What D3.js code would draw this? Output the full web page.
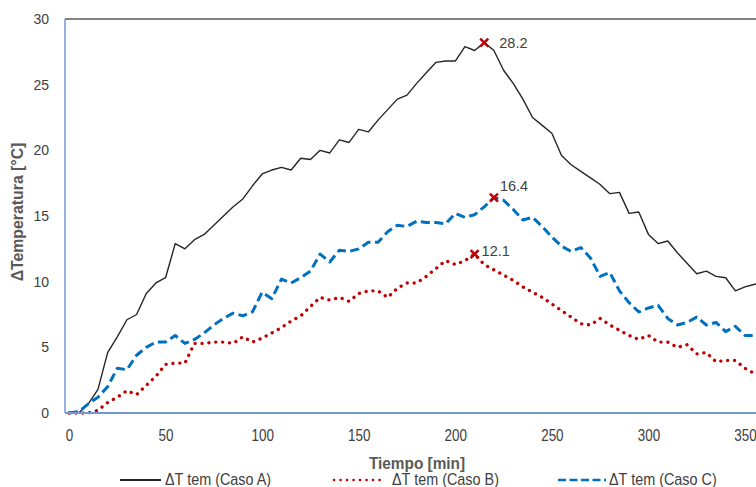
<!DOCTYPE html>
<html lang="es">

<head>
  <meta charset="UTF-8">
  <title>ΔTemperatura</title>
  <script src="https://d3js.org/d3.v7.min.js"></script>
  <style>
    body {
      margin: 0;
      background: white;
    }

    svg {
      display: block;
      font-family: "Liberation Sans", Arial, sans-serif;
    }
  </style>
</head>

<body>
  <div id="chart"></div>

  <script>
    // tiempo cada 5 min
    const tiempo = d3.range(0, 365, 5)

    const casoA = [0, 0, 0.7, 1.8, 4.6, 5.8, 7.1, 7.5, 9.1, 9.9, 10.3, 12.9, 12.5, 13.2, 13.6, 14.3, 15.0, 15.7, 16.3, 17.3,
      18.2, 18.5, 18.7, 18.5, 19.4, 19.3, 20.0, 19.8, 20.8, 20.6, 21.6, 21.4, 22.3, 23.1, 23.9, 24.2, 25.1, 25.9, 26.7, 26.8,
      26.8, 27.9, 27.6, 28.2, 27.6, 26.1, 25.1, 23.9, 22.5, 21.9, 21.3, 19.6, 18.9, 18.4, 17.9, 17.4, 16.7, 16.8, 15.2, 15.3,
      13.6, 12.9, 13.1, 12.2, 11.4, 10.6, 10.8, 10.4, 10.3, 9.3, 9.6, 9.8, 10.0]

    const casoB = [0, 0, 0, 0.2, 0.8, 1.2, 1.7, 1.4, 2.1, 2.8, 3.7, 3.8, 3.8, 5.3, 5.3, 5.4, 5.4, 5.3, 5.8, 5.4,
      5.7, 6.1, 6.5, 7.0, 7.4, 8.1, 8.8, 8.6, 8.8, 8.5, 9.1, 9.3, 9.3, 8.8, 9.5, 9.9, 9.9, 10.4, 11.0, 11.6,
      11.3, 11.6, 12.1, 11.3, 10.9, 10.5, 10.1, 9.6, 9.2, 8.8, 8.3, 7.8, 7.3, 6.8, 6.7, 7.2, 6.7, 6.3, 5.9, 5.6,
      5.9, 5.4, 5.4, 5.0, 5.2, 4.5, 4.6, 3.9, 4.0, 4.0, 3.4, 3.0, 2.8]

    const casoC = [0, 0.1, 0.7, 1.2, 2.0, 3.4, 3.3, 4.4, 5.0, 5.4, 5.4, 5.9, 5.3, 5.6, 6.1, 6.7, 7.2, 7.6, 7.4, 7.7,
      9.2, 8.7, 10.2, 9.9, 10.3, 10.8, 12.1, 11.5, 12.4, 12.3, 12.5, 13.0, 13.0, 13.8, 14.3, 14.2, 14.6, 14.5, 14.5, 14.4,
      15.2, 14.9, 15.1, 15.7, 16.4, 16.2, 15.5, 14.7, 14.9, 14.2, 13.4, 12.7, 12.3, 12.6, 11.8, 10.4, 10.7, 9.3, 8.4, 7.7,
      8.0, 8.2, 7.2, 6.7, 6.9, 7.3, 6.7, 6.9, 6.2, 6.6, 5.9, 5.9, 5.8]

    const xTicks = [0, 50, 100, 150, 200, 250, 300, 350]
    const yTicks = [0, 5, 10, 15, 20, 25, 30]

    const series = [
      { name: 'ΔT tem (Caso A)', values: casoA, color: '#262626', width: 1.4, dash: null, cap: 'butt' },
      { name: 'ΔT tem (Caso B)', values: casoB, color: '#C00000', width: 3.3, dash: '0.1,6.8', cap: 'round' },
      { name: 'ΔT tem (Caso C)', values: casoC, color: '#0070C0', width: 3, dash: '9,4.5', cap: 'butt' }
    ]

    const width = 756
    const height = 487
    const plotLeft = 65
    const plotTop = 19
    const plotBottom = 413
    const narrow = 'scale(0.9,1)'

    const svg = d3.select('#chart')
      .append('svg')
      .attr('width', width)
      .attr('height', height)

    const x = d3.scaleLinear()
      .domain([0, 350])
      .range([69, 745])

    const y = d3.scaleLinear()
      .domain([0, 30])
      .range([plotBottom, plotTop])

    // borde superior
    svg.append('line')
      .attr('x1', plotLeft).attr('x2', width)
      .attr('y1', y(30)).attr('y2', y(30))
      .attr('stroke', '#595959')
      .attr('stroke-width', 1.5)

    const line = d3.line()
      .x((_, i) => x(tiempo[i]))
      .y(d => y(d))

    series.forEach(s => {
      svg.append('path')
        .datum(s.values)
        .attr('d', line)
        .attr('fill', 'none')
        .attr('stroke', s.color)
        .attr('stroke-width', s.width)
        .attr('stroke-dasharray', s.dash)
        .attr('stroke-linecap', s.cap)
        .attr('stroke-linejoin', 'round')
    })

    // ejes
    svg.append('line')
      .attr('x1', plotLeft).attr('x2', plotLeft)
      .attr('y1', plotTop).attr('y2', plotBottom)
      .attr('stroke', '#7396d6')
      .attr('stroke-width', 1.5)

    svg.append('line')
      .attr('x1', plotLeft).attr('x2', width)
      .attr('y1', plotBottom).attr('y2', plotBottom)
      .attr('stroke', '#7396d6')
      .attr('stroke-width', 2)

    const yAxis = svg.append('g')
      .attr('transform', `translate(${plotLeft},0)`)
      .call(d3.axisLeft(y).tickValues(yTicks).tickSize(0).tickPadding(16))
    yAxis.select('.domain').remove()
    yAxis.selectAll('text')
      .attr('fill', '#404040')
      .attr('font-size', 14)
      .attr('font-family', null)

    const xAxis = svg.append('g')
      .attr('transform', `translate(0,${plotBottom})`)
      .call(d3.axisBottom(x).tickValues(xTicks).tickSize(0).tickPadding(17))
    xAxis.select('.domain').remove()
    xAxis.selectAll('text')
      .attr('transform', 'scale(0.84,1)')
      .attr('fill', '#404040')
      .attr('font-size', 16)
      .attr('font-family', null)

    // titulos
    svg.append('g')
      .attr('transform', 'translate(417,469)')
      .append('text')
      .attr('transform', 'scale(0.96,1)')
      .attr('text-anchor', 'middle')
      .attr('font-size', 16)
      .attr('font-weight', 'bold')
      .attr('fill', '#595959')
      .text('Tiempo [min]')

    svg.append('g')
      .attr('transform', 'translate(23,212) rotate(-90)')
      .append('text')
      .attr('transform', 'scale(0.96,1)')
      .attr('text-anchor', 'middle')
      .attr('font-size', 16.5)
      .attr('font-weight', 'bold')
      .attr('fill', '#595959')
      .text('ΔTemperatura [°C]')

    // maximos
    const labelOffset = [[15, 5], [7, 2], [6, -7]]
    series.forEach((s, k) => {
      const i = d3.maxIndex(s.values)
      const px = x(tiempo[i])
      const py = y(s.values[i])
      svg.append('path')
        .attr('d', `M${px - 4},${py - 4}L${px + 4},${py + 4}M${px - 4},${py + 4}L${px + 4},${py - 4}`)
        .attr('stroke', '#C00000')
        .attr('stroke-width', 2.5)
      svg.append('text')
        .attr('x', px + labelOffset[k][0])
        .attr('y', py + labelOffset[k][1])
        .attr('font-size', 14.5)
        .attr('fill', '#404040')
        .text(d3.format('.1f')(s.values[i]))
    })

    // leyenda
    const legendPos = [
      { x1: 120, x2: 161, tx: 165 },
      { x1: 334, x2: 386, tx: 392 },
      { x1: 558, x2: 606, tx: 609 }
    ]
    const ly = 480

    const legend = svg.append('g')
    series.forEach((s, i) => {
      const p = legendPos[i]
      legend.append('line')
        .attr('x1', p.x1).attr('x2', p.x2)
        .attr('y1', ly).attr('y2', ly)
        .attr('stroke', s.color)
        .attr('stroke-width', s.width === 1.4 ? 1.8 : 2.6)
        .attr('stroke-dasharray', s.dash ? (s.cap === 'round' ? '0.1,6.4' : '8,3.5') : null)
        .attr('stroke-linecap', s.cap)
      legend.append('g')
        .attr('transform', `translate(${p.tx},${ly + 5})`)
        .append('text')
        .attr('transform', narrow)
        .attr('font-size', 16)
        .attr('fill', '#404040')
        .text(s.name)
    })
  </script>
</body>

</html>
